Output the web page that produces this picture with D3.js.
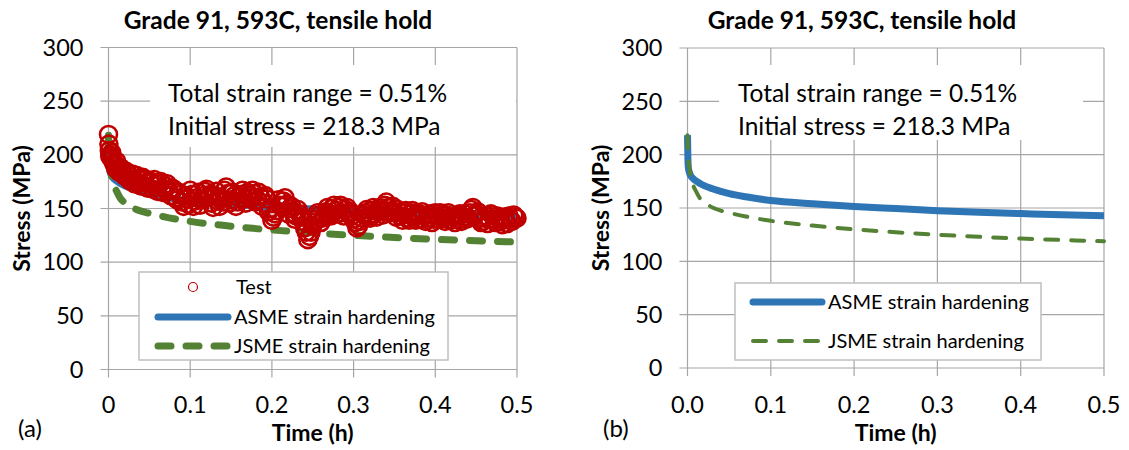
<!DOCTYPE html>
<html>
<head>
<meta charset="utf-8">
<script src="https://d3js.org/d3.v7.min.js"></script>
<style>
  body { margin: 0; background: #fff; }
  svg { display: block; font-family: Lato, "Open Sans", sans-serif; }
</style>
</head>
<body>
<div id="chart"></div>
<script>
// Test data (left panel only), two interleaved sampling passes
const testTimeA = [0, 0.001, 0.002, 0.003, 0.004, 0.006, 0.008, 0.010, 0.012, 0.015, 0.018, 0.021, 0.024, 0.027, 0.030,
  0.034, 0.038, 0.042, 0.046, 0.050, 0.054, 0.058, 0.062, 0.066, 0.070, 0.074, 0.078, 0.082, 0.086, 0.090, 0.094, 0.098,
  0.102, 0.106, 0.110, 0.114, 0.118, 0.122, 0.126, 0.130, 0.134, 0.138, 0.142, 0.146, 0.150, 0.154, 0.158, 0.162, 0.166,
  0.170, 0.174, 0.178, 0.182, 0.186, 0.190, 0.194, 0.198, 0.202, 0.206, 0.210, 0.214, 0.218, 0.222, 0.226, 0.230, 0.234,
  0.238, 0.242, 0.246, 0.250, 0.254, 0.258, 0.262, 0.266, 0.270, 0.274, 0.278, 0.282, 0.286, 0.290, 0.294, 0.298, 0.302,
  0.306, 0.310, 0.314, 0.318, 0.322, 0.326, 0.330, 0.334, 0.338, 0.342, 0.346, 0.350, 0.354, 0.358, 0.362, 0.366, 0.370,
  0.374, 0.378, 0.382, 0.386, 0.390, 0.394, 0.398, 0.402, 0.406, 0.410, 0.414, 0.418, 0.422, 0.426, 0.430, 0.434, 0.438,
  0.442, 0.446, 0.450, 0.454, 0.458, 0.462, 0.466, 0.470, 0.474, 0.478, 0.482, 0.486, 0.490, 0.494, 0.498, 0.500];
const testStressA = [219, 204, 200, 197, 202, 193, 190, 194, 186, 188, 182, 185, 178, 180, 176,
  181, 174, 179, 170, 176, 168, 174, 172, 165, 171, 166, 169, 160, 165, 156, 162, 154,
  163, 157, 165, 158, 166, 160, 155, 162, 157, 160, 167, 164, 158, 162, 156, 163, 159,
  165, 160, 164, 158, 161, 155, 159, 150, 142, 148, 153, 157, 154, 150, 146, 143, 145,
  138, 128, 124, 134, 140, 144, 141, 147, 145, 150, 148, 151, 146, 149, 145, 143, 137,
  134, 141, 146, 143, 148, 145, 149, 147, 153, 151, 148, 146, 149, 143, 146, 141, 145,
  142, 146, 140, 144, 141, 145, 140, 143, 146, 141, 144, 139, 143, 140, 145, 142, 140,
  146, 151, 145, 141, 138, 143, 140, 144, 137, 141, 135, 140, 143, 138, 142, 141];
const testTimeB = [0.0005, 0.0015, 0.005, 0.007, 0.009, 0.011, 0.013, 0.017, 0.020, 0.023, 0.026, 0.029,
  0.032, 0.036, 0.040, 0.044, 0.048, 0.052, 0.056, 0.060, 0.064, 0.068, 0.072, 0.076, 0.080, 0.084, 0.088, 0.092,
  0.096, 0.100, 0.104, 0.108, 0.112, 0.116, 0.120, 0.124, 0.128, 0.132, 0.136, 0.140, 0.144, 0.148, 0.152, 0.156,
  0.160, 0.164, 0.168, 0.172, 0.176, 0.180, 0.184, 0.188, 0.192, 0.196, 0.200, 0.204, 0.208, 0.212, 0.216, 0.220,
  0.224, 0.228, 0.232, 0.236, 0.240, 0.244, 0.248, 0.252, 0.256, 0.260, 0.264, 0.268, 0.272, 0.276, 0.280, 0.284,
  0.288, 0.292, 0.296, 0.300, 0.304, 0.308, 0.312, 0.316, 0.320, 0.324, 0.328, 0.332, 0.336, 0.340, 0.344, 0.348,
  0.352, 0.356, 0.360, 0.364, 0.368, 0.372, 0.376, 0.380, 0.384, 0.388, 0.392, 0.396, 0.400, 0.404, 0.408, 0.412,
  0.416, 0.420, 0.424, 0.428, 0.432, 0.436, 0.440, 0.444, 0.448, 0.452, 0.456, 0.460, 0.464, 0.468, 0.472, 0.476,
  0.480, 0.484, 0.488, 0.492, 0.496];
const testStressB = [210, 199, 196, 191, 187, 190, 184, 185, 180, 183, 176, 182,
  173, 178, 171, 177, 169, 174, 177, 166, 175, 168, 173, 162, 168, 158, 163, 152,
  159, 167, 152, 160, 153, 162, 168, 163, 151, 166, 152, 156, 170, 155, 165, 152,
  160, 167, 155, 163, 167, 156, 165, 152, 162, 147, 139, 145, 158, 152, 160, 145,
  152, 140, 149, 142, 132, 121, 128, 137, 146, 137, 143, 151, 143, 153, 145, 153,
  143, 151, 147, 140, 132, 138, 144, 149, 141, 151, 142, 151, 144, 156, 146, 152,
  142, 147, 139, 148, 139, 148, 139, 144, 147, 138, 144, 137, 146, 140, 144, 138,
  146, 142, 137, 143, 138, 145, 141, 149, 143, 147, 137, 141, 136, 145, 140, 143,
  138, 142, 136, 140, 144];

// Model curves
const modelTime = [0, 0.0005, 0.001, 0.002, 0.004, 0.007, 0.01, 0.015, 0.02, 0.03, 0.04, 0.05, 0.07, 0.1,
  0.15, 0.2, 0.25, 0.3, 0.35, 0.4, 0.45, 0.5];
const asmeStress = [218.3, 196, 188, 184, 180, 177.5, 175.5, 173, 171, 168, 165.5, 163.5, 160.5, 157,
  154, 151.5, 149.5, 147.5, 146, 144.8, 143.7, 142.8];
const jsmeStress = [218.3, 205, 198, 189, 180, 171, 166, 159, 155.5, 150.5, 147.5, 145.5, 142, 138,
  133.5, 130, 127.3, 125, 123, 121.3, 120, 118.8];

const xTicks = [0, 0.1, 0.2, 0.3, 0.4, 0.5];
const yTicks = [0, 50, 100, 150, 200, 250, 300];
const titleText = "Grade 91, 593C, tensile hold";
const noteLines = ["Total strain range = 0.51%", "Initial stress = 218.3 MPa"];

const W = 1129, H = 450;
const BLUE = "#2E75B6", GREEN = "#548235", RED = "#C00000", GRID = "#A6A6A6";

const testPts = testTimeA.map((t, i) => [t, testStressA[i]])
  .concat(testTimeB.map((t, i) => [t, testStressB[i]]));

const svg = d3.select("#chart").append("svg").attr("width", W).attr("height", H);

const panels = [
  { id: "a", left: 108.5, right: 517, top: 47.5, bottom: 369.5, xFmt: d3.format("~g"),
    titleX: 278, noteX: 168, noteBox: [150, 65, 516, 147], labelX: 18,
    legend: { x: 139, y: 272, w: 309, h: 88, lineX: [158, 228], textX: 234, rows: [287, 317, 346] },
    test: true, jsmeW: 7, jsmeDash: "13,15" },
  { id: "b", left: 687.5, right: 1104, top: 48, bottom: 368, xFmt: d3.format(".1f"),
    titleX: 862, noteX: 738, noteBox: [719, 65, 1083, 140], labelX: 603,
    legend: { x: 735, y: 283, w: 306, h: 77, lineX: [753, 822], textX: 828, rows: [302, 341] },
    test: false, jsmeW: 4, jsmeDash: "13,13" }
];

panels.forEach(p => {
  const g = svg.append("g");
  const x = d3.scaleLinear().domain([0, 0.5]).range([p.left, p.right]);
  const y = d3.scaleLinear().domain([0, 300]).range([p.bottom, p.top]);

  // gridlines with outward ticks
  g.append("g").selectAll("line").data(yTicks).join("line")
    .attr("x1", p.left - 8).attr("x2", p.right)
    .attr("y1", d => y(d)).attr("y2", d => y(d))
    .attr("stroke", GRID).attr("stroke-width", 1.2);
  g.append("g").selectAll("line").data(xTicks).join("line")
    .attr("x1", d => x(d)).attr("x2", d => x(d))
    .attr("y1", p.top).attr("y2", p.bottom + 8)
    .attr("stroke", GRID).attr("stroke-width", 1.2);

  // tick labels
  g.append("g").selectAll("text").data(yTicks).join("text")
    .attr("x", p.left - 25).attr("y", d => y(d)).attr("dy", "0.35em")
    .attr("text-anchor", "end").attr("font-size", 23.5).attr("fill", "#000")
    .text(d => d);
  g.append("g").selectAll("text").data(xTicks).join("text")
    .attr("x", d => x(d)).attr("y", 413)
    .attr("text-anchor", "middle").attr("font-size", 23.5).attr("fill", "#000")
    .text(d => p.xFmt(d));

  // annotation box
  const nb = p.noteBox;
  g.append("rect").attr("x", nb[0]).attr("y", nb[1]).attr("width", nb[2] - nb[0]).attr("height", nb[3] - nb[1])
    .attr("fill", "#fff");
  g.selectAll("text.note").data(noteLines).join("text").attr("class", "note")
    .attr("x", p.noteX).attr("y", (d, i) => 102 + i * 33)
    .attr("font-size", 24.5).attr("fill", "#000").text(d => d);

  // model curves
  const line = vals => d3.line().x(d => x(d)).y((d, i) => y(vals[i])).curve(d3.curveMonotoneX)(modelTime);
  g.append("path").attr("d", line(asmeStress)).attr("fill", "none")
    .attr("stroke", BLUE).attr("stroke-width", 7).attr("stroke-linejoin", "round");
  g.append("path").attr("d", line(jsmeStress)).attr("fill", "none")
    .attr("stroke", GREEN).attr("stroke-width", p.jsmeW).attr("stroke-dasharray", p.jsmeDash)
    .attr("stroke-linecap", "round");

  if (p.test) {
    g.append("g").selectAll("circle").data(testPts).join("circle")
      .attr("cx", d => x(d[0])).attr("cy", d => y(d[1])).attr("r", 8.5)
      .attr("fill", "none").attr("stroke", RED).attr("stroke-width", 2.6);
  }

  // titles
  g.append("text").attr("x", p.titleX).attr("y", 29).attr("text-anchor", "middle")
    .attr("font-size", 24.5).attr("font-weight", "bold").text(titleText);
  g.append("text").attr("transform", `translate(${p.left - 87},${(p.top + p.bottom) / 2}) rotate(-90)`)
    .attr("text-anchor", "middle").attr("dy", "0.35em")
    .attr("font-size", 23).attr("font-weight", "bold").text("Stress (MPa)");
  g.append("text").attr("x", (p.left + p.right) / 2).attr("y", 441).attr("text-anchor", "middle")
    .attr("font-size", 23).attr("font-weight", "bold").text("Time (h)");
  g.append("text").attr("x", p.labelX).attr("y", 437).attr("font-size", 24).text(`(${p.id})`);

  // legend
  const L = p.legend;
  const lg = g.append("g");
  lg.append("rect").attr("x", L.x).attr("y", L.y).attr("width", L.w).attr("height", L.h)
    .attr("fill", "#fff").attr("stroke", "#BFBFBF").attr("stroke-width", 1.5);
  const items = [];
  if (p.test) items.push({ name: "Test", kind: "test" });
  items.push({ name: "ASME strain hardening", kind: "asme" });
  items.push({ name: "JSME strain hardening", kind: "jsme" });
  items.forEach((it, i) => {
    const cy = L.rows[i];
    if (it.kind === "test") {
      lg.append("circle").attr("cx", (L.lineX[0] + L.lineX[1]) / 2).attr("cy", cy).attr("r", 4.5)
        .attr("fill", "none").attr("stroke", RED).attr("stroke-width", 1.2);
    } else if (it.kind === "asme") {
      lg.append("line").attr("x1", L.lineX[0]).attr("x2", L.lineX[1]).attr("y1", cy).attr("y2", cy)
        .attr("stroke", BLUE).attr("stroke-width", 7).attr("stroke-linecap", "round");
    } else {
      lg.append("line").attr("x1", L.lineX[0]).attr("x2", L.lineX[1]).attr("y1", cy).attr("y2", cy)
        .attr("stroke", GREEN).attr("stroke-width", p.jsmeW).attr("stroke-dasharray", p.jsmeDash)
        .attr("stroke-linecap", "round");
    }
    lg.append("text").attr("x", it.kind === "test" ? L.textX + 2 : L.textX).attr("y", cy).attr("dy", "0.35em")
      .attr("font-size", 20).text(it.name);
  });
});
</script>
</body>
</html>
